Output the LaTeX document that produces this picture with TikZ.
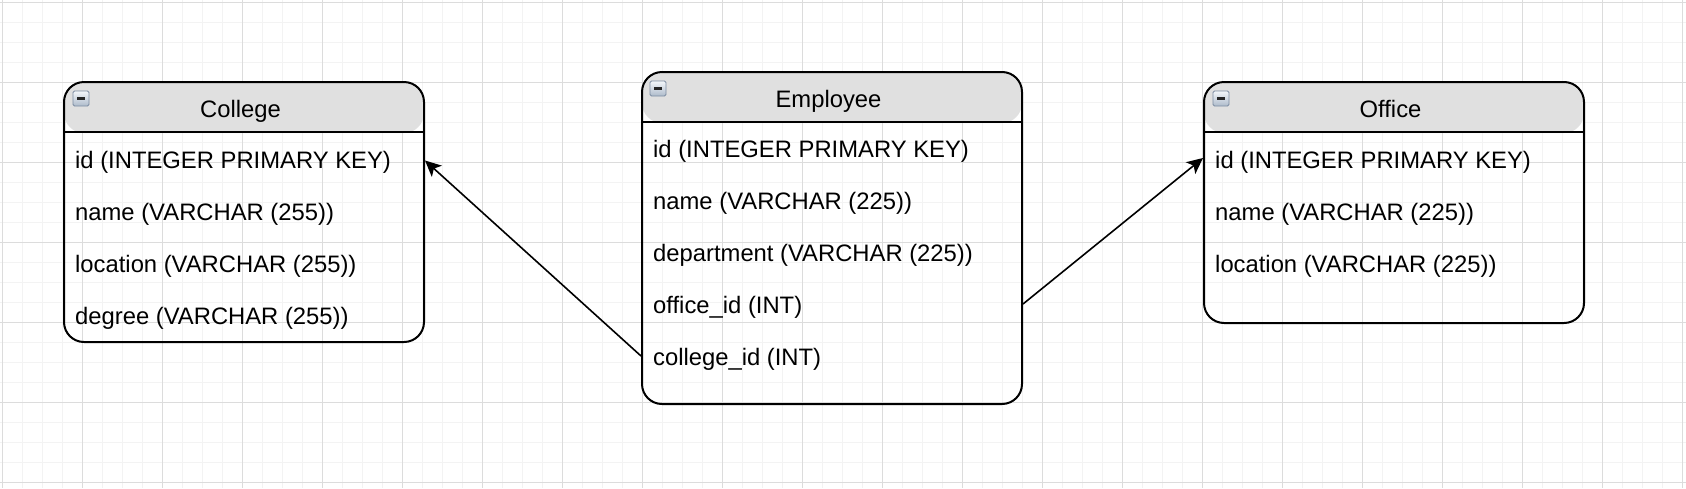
\documentclass[tikz,border=0pt]{standalone}
\usepackage{fontspec}
\setmainfont{Liberation Sans}
\usetikzlibrary{arrows.meta,calc}
\definecolor{gridminor}{HTML}{F3F3F3}
\definecolor{gridmajor}{HTML}{DCDCDC}
\definecolor{hdrfill}{HTML}{E0E0E0}
\definecolor{iconborder}{HTML}{7C8CA2}
\definecolor{icontop}{HTML}{F4F7FA}
\definecolor{iconbot}{HTML}{AEBBCB}
\tikzset{
  minorline/.style={gridminor, line width=1.2pt},
  majorline/.style={gridmajor, line width=1.2pt},
  entity/.style={draw=black, line width=2pt, rounded corners=20pt, rectangle, anchor=north west, inner sep=0pt,
    path picture={\fill[hdrfill] (path picture bounding box.north west) rectangle ([yshift=-51pt]path picture bounding box.north east);}},
  hdrline/.style={black, line width=2pt},
  rowtext/.style={anchor=base west, inner sep=0pt, font=\fontsize{23.8}{28}\selectfont},
  titletext/.style={anchor=base, inner sep=0pt, font=\fontsize{23.8}{28}\selectfont},
  conn/.style={black, line width=1.6pt, -{Stealth[length=16pt, width=15pt, inset=4pt]}},
  iconbox/.style={draw=iconborder, line width=0.8pt, rounded corners=1.5pt, top color=icontop, bottom color=iconbot},
  iconminus/.style={black!85, line width=2.2pt},
}
\newcommand{\collapseicon}[2]{%
  \path[iconbox] ($(#1.north west)+(#2)$) rectangle ++(16,15);
  \draw[iconminus] ($(#1.north west)+(#2)+(4,7.5)$) -- ++(8,0);
}
\begin{document}
\begin{tikzpicture}[x=1pt,y=-1pt]
\useasboundingbox (0,0) rectangle (1686,488);
\fill[white] (0,0) rectangle (1686,488);
% grid
\foreach \i in {0,...,84} \draw[minorline] ({2.3+20*\i},0) -- ({2.3+20*\i},488);
\foreach \j in {0,...,24} \draw[minorline] (0,{2.3+20*\j}) -- (1686,{2.3+20*\j});
\foreach \i in {0,...,21} \draw[majorline] ({2.3+80*\i},0) -- ({2.3+80*\i},488);
\foreach \j in {0,...,6} \draw[majorline] (0,{2.3+80*\j}) -- (1686,{2.3+80*\j});

% College
\node[entity, minimum width=360pt, minimum height=260pt] (college) at (63,81) {};
\draw[hdrline] ([yshift=-51pt]college.north west) -- ([yshift=-51pt]college.north east);
\collapseicon{college}{10,10}
\node[titletext] (collegetitle) at (240.5,117) {College};
\node[rowtext] (c1) at (75,168.5) {id (INTEGER PRIMARY KEY)};
\node[rowtext] (c2) at (75,220.5) {name (VARCHAR (255))};
\node[rowtext] (c3) at (75,272.5) {location (VARCHAR (255))};
\node[rowtext] (c4) at (75,324.5) {degree (VARCHAR (255))};

% Employee
\node[entity, minimum width=380pt, minimum height=332pt] (employee) at (641,71) {};
\draw[hdrline] ([yshift=-51pt]employee.north west) -- ([yshift=-51pt]employee.north east);
\collapseicon{employee}{9,10}
\node[titletext] (employeetitle) at (828.5,107) {Employee};
\node[rowtext] (e1) at (653,157.5) {id (INTEGER PRIMARY KEY)};
\node[rowtext] (e2) at (653,209.5) {name (VARCHAR (225))};
\node[rowtext] (e3) at (653,261.5) {department (VARCHAR (225))};
\node[rowtext] (e4) at (653,313.5) {office\_id (INT)};
\node[rowtext] (e5) at (653,365.5) {college\_id (INT)};

% Office
\node[entity, minimum width=380pt, minimum height=241pt] (office) at (1203,81) {};
\draw[hdrline] ([yshift=-51pt]office.north west) -- ([yshift=-51pt]office.north east);
\collapseicon{office}{10,10}
\node[titletext] (officetitle) at (1390.5,117) {Office};
\node[rowtext] (o1) at (1215,168.5) {id (INTEGER PRIMARY KEY)};
\node[rowtext] (o2) at (1215,220.5) {name (VARCHAR (225))};
\node[rowtext] (o3) at (1215,272.5) {location (VARCHAR (225))};

% connectors
\draw[conn] (employee.west |- 0,356) -- (college.east |- 0,160.5);
\draw[conn] (employee.east |- 0,304) -- (office.west |- 0,158);
\end{tikzpicture}
\end{document}
